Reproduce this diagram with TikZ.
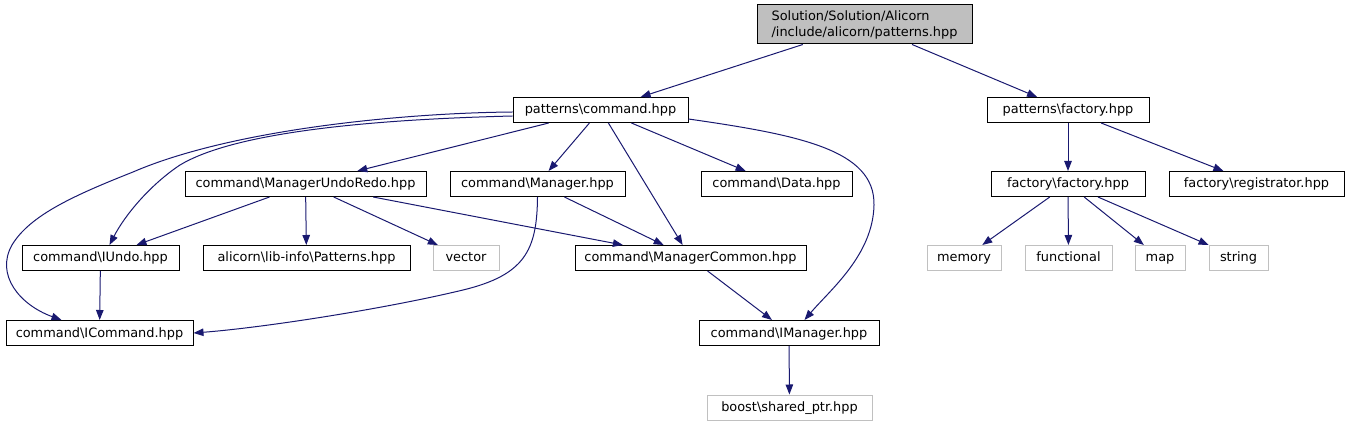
\documentclass[tikz,border=0pt]{standalone}
\usepackage{fontspec}
\setmainfont{DejaVu Sans}
\usetikzlibrary{arrows.meta}
\definecolor{edgeblue}{HTML}{191970}
\definecolor{rootgray}{HTML}{BFBFBF}
\definecolor{extgray}{HTML}{C0C0C0}
\begin{document}
\begin{tikzpicture}[x=1pt,y=-1pt,
  base/.style={rectangle,inner sep=0pt,minimum height=25pt,line width=1pt,
    font=\fontsize{12.9}{16}\selectfont,text=black},
  filebox/.style={base,draw=black,text height=10.5pt,text depth=2.5pt},
  extbox/.style={base,draw=extgray,text height=10.5pt,text depth=2.5pt},
  rootbox/.style={base,draw=black,fill=rootgray,align=left,minimum height=39pt},
  dep/.style={draw=edgeblue,line width=1pt,-{Triangle[length=10pt,width=7.5pt]}}]
\path[use as bounding box] (0,0) rectangle (1348,427);

\node[rootbox,minimum width=215pt] (root) at (864.5,24.5) {Solution/Solution/Alicorn\\/include/alicorn/patterns.hpp};
\node[filebox,minimum width=175pt] (cmd) at (600.5,110) {patterns\textbackslash command.hpp};
\node[filebox,minimum width=162pt] (fac) at (1068,110) {patterns\textbackslash factory.hpp};
\node[filebox,minimum width=154pt] (ffac) at (1068,184) {factory\textbackslash factory.hpp};
\node[filebox,minimum width=175pt] (reg) at (1256.5,184) {factory\textbackslash registrator.hpp};
\node[extbox,minimum width=74pt] (mem) at (964,258) {memory};
\node[extbox,minimum width=87pt] (func) at (1068.5,258) {functional};
\node[extbox,minimum width=50pt] (map) at (1160,258) {map};
\node[extbox,minimum width=59pt] (str) at (1238.5,258) {string};
\node[filebox,minimum width=241pt] (mur) at (305.5,184) {command\textbackslash ManagerUndoRedo.hpp};
\node[filebox,minimum width=157pt] (iundo) at (100.5,258) {command\textbackslash IUndo.hpp};
\node[filebox,minimum width=207pt] (pat) at (306.5,258) {alicorn\textbackslash lib-info\textbackslash Patterns.hpp};
\node[extbox,minimum width=66pt] (vec) at (466,258) {vector};
\node[filebox,minimum width=187pt] (icmd) at (99.5,333) {command\textbackslash ICommand.hpp};
\node[filebox,minimum width=175pt] (mgr) at (537.5,184) {command\textbackslash Manager.hpp};
\node[filebox,minimum width=151pt] (data) at (776.5,184) {command\textbackslash Data.hpp};
\node[filebox,minimum width=231pt] (mc) at (690.5,258) {command\textbackslash ManagerCommon.hpp};
\node[filebox,minimum width=180pt] (imgr) at (789,333) {command\textbackslash IManager.hpp};
\node[extbox,minimum width=165pt] (boost) at (789.5,407.5) {boost\textbackslash shared\_ptr.hpp};

\draw[dep] (root) -- (cmd);
\draw[dep] (root) -- (fac);
\draw[dep] (cmd) -- (mur);
\draw[dep] (cmd) -- (mgr);
\draw[dep] (cmd) -- (data);
\draw[dep] (cmd) -- (mc);
\draw[dep] ([yshift=-2pt]cmd.west) .. controls (400,113) and (230,130) .. (133,172)
   .. controls (75,195) and (30,215) .. (12,245)
   .. controls (-5,275) and (20,305) .. ([xshift=56pt]icmd.north west);
\draw[dep] ([yshift=-6pt]cmd.west) .. controls (350,120) and (230,135) .. (180,165)
   .. controls (150,185) and (125,215) .. ([xshift=88pt]iundo.north west);
\draw[dep] ([yshift=-9pt]cmd.east) .. controls (800,135) and (875,150) .. (874,205)
   .. controls (873,255) and (830,290) .. ([xshift=106pt]imgr.north west);
\draw[dep] (mur) -- (iundo);
\draw[dep] (mur) -- (pat);
\draw[dep] (mur) -- (vec);
\draw[dep] (mur) -- (mc);
\draw[dep] (mgr) -- (mc);
\draw[dep] (mgr.south) .. controls (537,250) and (525,275) .. (463,290)
   .. controls (382,309.5) and (260,328) .. (icmd.east);
\draw[dep] (iundo) -- (icmd);
\draw[dep] (mc) -- (imgr);
\draw[dep] (imgr) -- (boost);
\draw[dep] (fac) -- (ffac);
\draw[dep] (fac) -- (reg);
\draw[dep] (ffac) -- (mem);
\draw[dep] (ffac) -- (func);
\draw[dep] (ffac) -- (map);
\draw[dep] (ffac) -- (str);
\end{tikzpicture}
\end{document}
